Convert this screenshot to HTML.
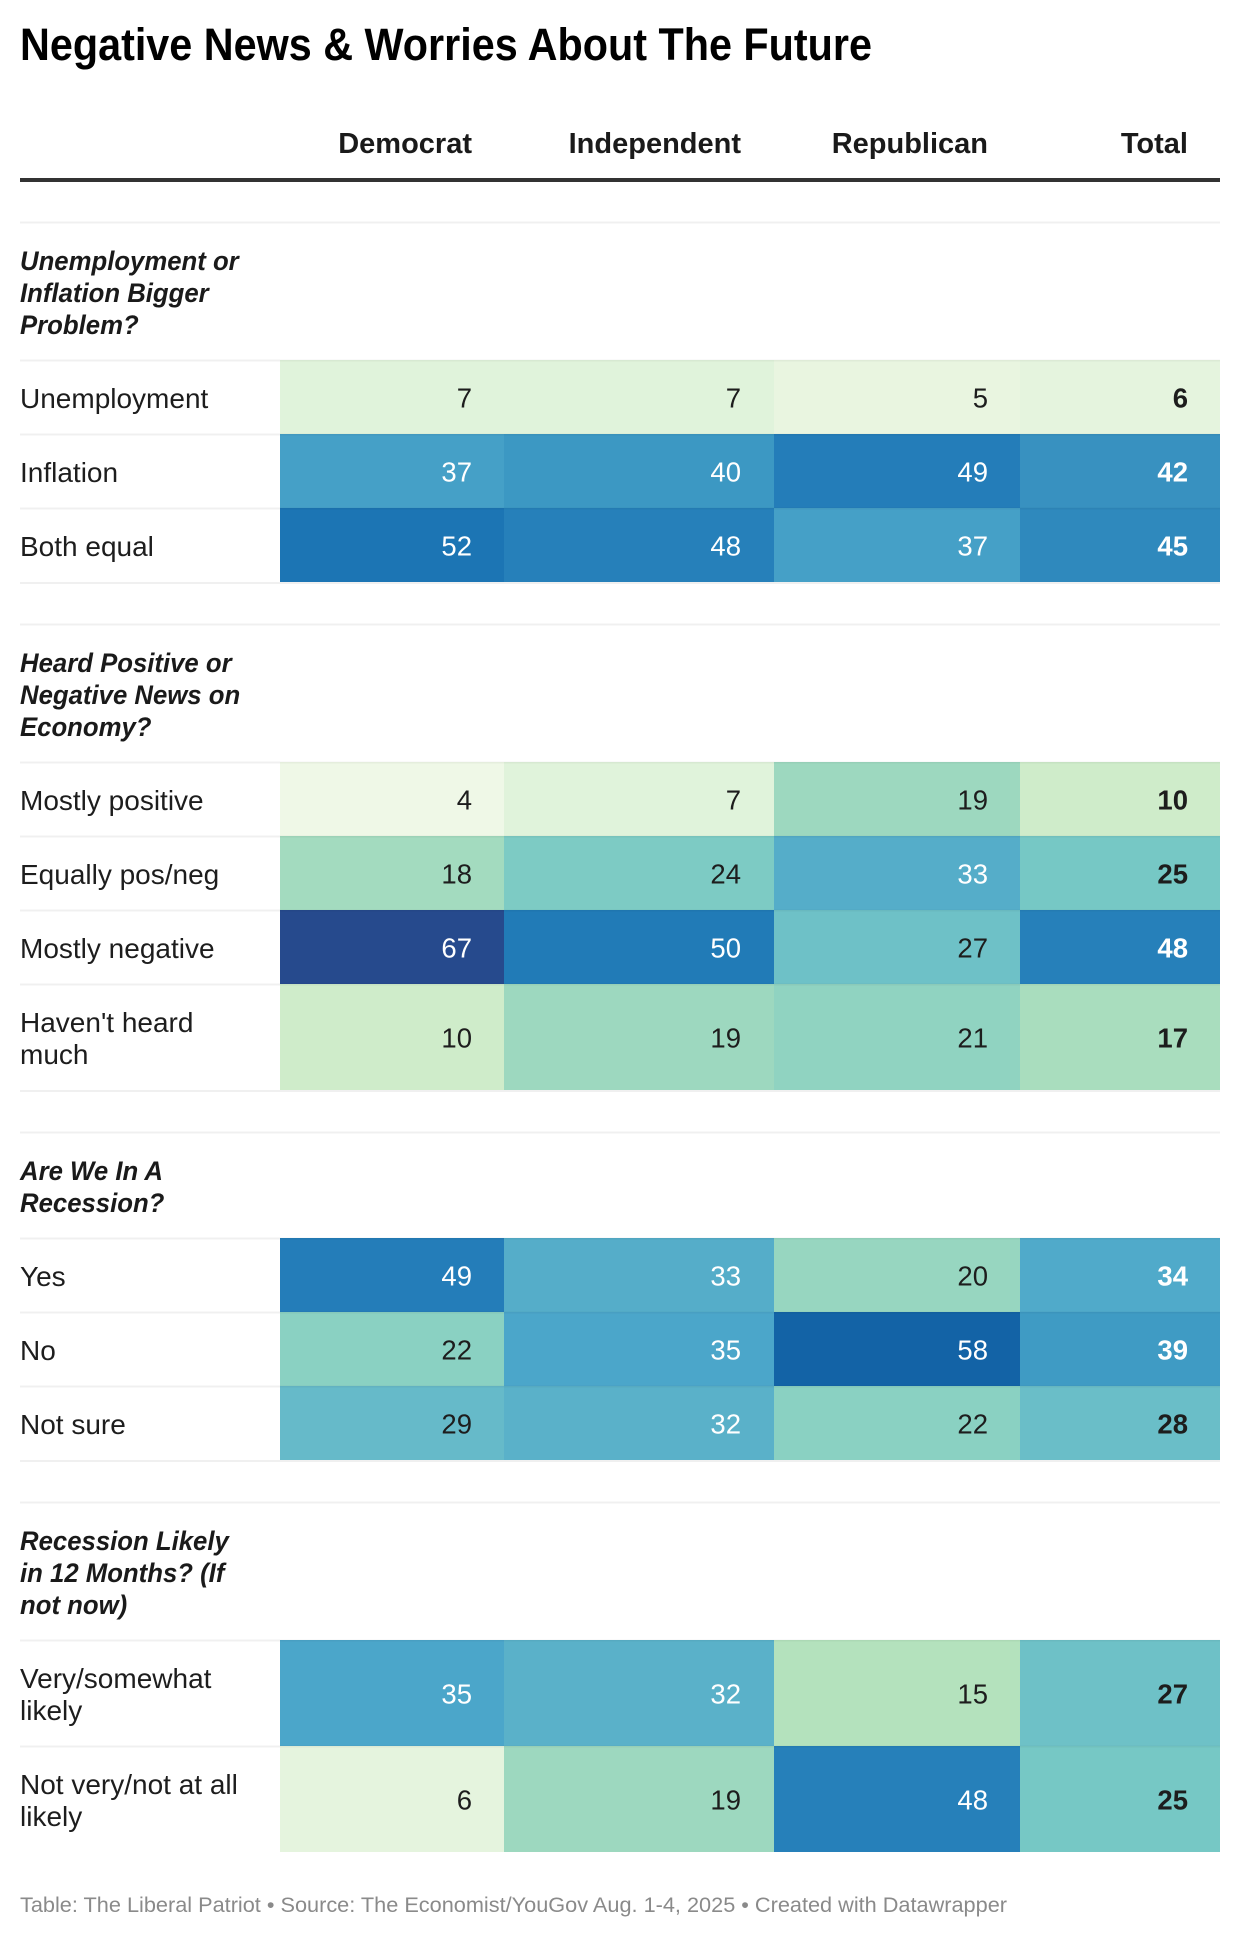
<!DOCTYPE html>
<html lang="en">
<head>
<meta charset="utf-8">
<title>Negative News &amp; Worries About The Future</title>
<style>
  html, body { margin: 0; padding: 0; background: #fff; }
  svg { display: block; font-family: "Liberation Sans", sans-serif; }
  .title { font-size: 45px; font-weight: 700; fill: #000; }
  .col-head { font-size: 29px; font-weight: 700; fill: #1a1a1a; text-anchor: end; }
  .section { font-size: 27px; font-weight: 700; font-style: italic; fill: #1a1a1a; }
  .row-label { font-size: 28px; fill: #1d1d1d; }
  .value { font-size: 27.5px; text-anchor: end; }
  .value-total { font-weight: 700; }
  .footer { font-size: 21.7px; fill: #8a8a8a; }
</style>
</head>
<body>
<svg id="chart" width="1240" height="1938" viewBox="0 0 1240 1938" xmlns="http://www.w3.org/2000/svg">
  <text class="title" x="20" y="60" textLength="852" lengthAdjust="spacingAndGlyphs">Negative News &amp; Worries About The Future</text>
  <rect x="20" y="178" width="1200" height="4" fill="#333"></rect>
  <text class="footer" x="20" y="1912" textLength="987" lengthAdjust="spacingAndGlyphs">Table: The Liberal Patriot • Source: The Economist/YouGov Aug. 1-4, 2025 • Created with Datawrapper</text>
</svg>
<script>
const columnLabels = ["Democrat", "Independent", "Republican", "Total"];
const sectionTitles = [
  ["Unemployment or", "Inflation Bigger", "Problem?"],
  ["Heard Positive or", "Negative News on", "Economy?"],
  ["Are We In A", "Recession?"],
  ["Recession Likely", "in 12 Months? (If", "not now)"]
];
const rowSections = [0, 0, 0, 1, 1, 1, 1, 2, 2, 2, 3, 3];
const rowLabels = [
  ["Unemployment"],
  ["Inflation"],
  ["Both equal"],
  ["Mostly positive"],
  ["Equally pos/neg"],
  ["Mostly negative"],
  ["Haven't heard", "much"],
  ["Yes"],
  ["No"],
  ["Not sure"],
  ["Very/somewhat", "likely"],
  ["Not very/not at all", "likely"]
];
const democratValues    = [7, 37, 52, 4, 18, 67, 10, 49, 22, 29, 35, 6];
const independentValues = [7, 40, 48, 7, 24, 50, 19, 33, 35, 32, 32, 19];
const republicanValues  = [5, 49, 37, 19, 33, 27, 21, 20, 58, 22, 15, 48];
const totalValues       = [6, 42, 45, 10, 25, 48, 17, 34, 39, 28, 27, 25];

const seriesValues = [democratValues, independentValues, republicanValues, totalValues];

/* colour scale: value -> fill */
const scaleDomain = [4, 5, 7, 10, 15, 19, 22, 25, 29, 32, 35, 40, 42, 48, 52, 58, 67];
const scaleColors = ["#eff8e7", "#e9f5e0", "#e0f3db", "#cfecca", "#b4e2bd", "#9dd8bf", "#8ad1c2", "#76c8c5",
                     "#66bac9", "#5ab1c9", "#4ba6ca", "#3c98c3", "#3891c0", "#2680ba", "#1c75b4", "#1363a6", "#264a8d"];
const WHITE_TEXT_FROM = 32;
const SECTION_CONDENSE = 0.953;

function hexToRgb(h) {
  return [parseInt(h.slice(1, 3), 16), parseInt(h.slice(3, 5), 16), parseInt(h.slice(5, 7), 16)];
}
function colorFor(v) {
  const n = scaleDomain.length;
  if (v <= scaleDomain[0]) return scaleColors[0];
  if (v >= scaleDomain[n - 1]) return scaleColors[n - 1];
  let i = 0;
  while (v > scaleDomain[i + 1]) i++;
  const t = (v - scaleDomain[i]) / (scaleDomain[i + 1] - scaleDomain[i]);
  const a = hexToRgb(scaleColors[i]);
  const b = hexToRgb(scaleColors[i + 1]);
  const c = a.map(function (x, k) { return Math.round(x + (b[k] - x) * t); });
  return "rgb(" + c.join(",") + ")";
}

/* layout functions */
function columnLeft(i) {
  if (i === 0) return 280;
  if (i === 1) return 504;
  if (i === 2) return 774;
  if (i === 3) return 1020;
  return 1220;
}
function columnTextRight(i) {
  return columnLeft(i + 1) - (i === 1 ? 33 : 32);
}
function linesHeight(count) {
  return 42 + 32 * count;
}

const svg = document.getElementById("chart");
const NS = "http://www.w3.org/2000/svg";

function addText(cls, x, y, content, fill) {
  const t = document.createElementNS(NS, "text");
  t.setAttribute("class", cls);
  t.setAttribute("x", x);
  t.setAttribute("y", y);
  if (fill) t.setAttribute("fill", fill);
  t.textContent = content;
  svg.appendChild(t);
  return t;
}
function addRect(x, y, w, h, fill) {
  const r = document.createElementNS(NS, "rect");
  r.setAttribute("x", x);
  r.setAttribute("y", y);
  r.setAttribute("width", w);
  r.setAttribute("height", h);
  r.setAttribute("fill", fill);
  svg.appendChild(r);
  return r;
}

/* column headers */
columnLabels.forEach(function (label, c) {
  const head = addText("col-head", columnTextRight(c), 153, label);
  
  
});

/* sections and rows */
let y = 222;
sectionTitles.forEach(function (lines, s) {
  if (s > 0) y += 42;

  const sectionRule = addRect(20, y - 0.5, 1200, 2, "#f0f0f0");
  
  

  lines.forEach(function (line, l) {
    const sectionText = addText("section", 20, y + 48 + 32 * l, line);
    sectionText.setAttribute("textLength", (sectionText.getComputedTextLength() * SECTION_CONDENSE).toFixed(1));
    sectionText.setAttribute("lengthAdjust", "spacingAndGlyphs");
    
    
  });
  y += linesHeight(lines.length);

  rowSections.forEach(function (sec, r) {
    if (sec !== s) return;
    const h = linesHeight(rowLabels[r].length);

    const rowRule = addRect(20, y - 0.5, 260, 2, "#f0f0f0");
    
    

    rowLabels[r].forEach(function (line, l) {
      const labelText = addText("row-label", 20, y + 48 + 32 * l, line);
      
      
    });

    seriesValues.forEach(function (values, c) {
      const v = values[r];
      const left = columnLeft(c);
      const cell = addRect(left, y, columnLeft(c + 1) - left, h, colorFor(v));
      
      

      const edge = addRect(left, y - 0.5, columnLeft(c + 1) - left, 2, "rgba(0,0,0,0.04)");
      
      

      const cls = c === 3 ? "value value-total" : "value";
      const ink = v >= WHITE_TEXT_FROM ? "#ffffff" : "#1d1d1d";
      const valueText = addText(cls, columnTextRight(c), y + h / 2 + 10.7, String(v), ink);
      
      
    });
    y += h;
  });

  const bottomRule = addRect(20, y, s === sectionTitles.length - 1 ? 0 : 1200, 2, "#f0f0f0");
  
  
});
</script>
</body>
</html>
